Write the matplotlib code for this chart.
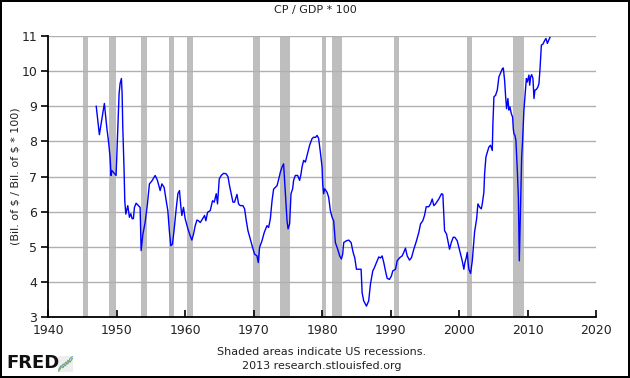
import matplotlib

matplotlib.use("Agg")
import matplotlib.pyplot as plt

# CP / GDP * 100 (decimal year, value)
years = [
    1947.00, 1947.46, 1948.19, 1948.54, 1948.83, 1949.02, 1949.17, 1949.27, 1949.51, 1949.90,
    1950.09, 1950.34, 1950.49, 1950.68, 1950.78, 1950.88, 1951.07, 1951.17, 1951.32, 1951.61,
    1951.85, 1952.05, 1952.24, 1952.43, 1952.58, 1952.83, 1953.16, 1953.41, 1953.56, 1953.81,
    1954.14, 1954.48, 1954.77, 1955.12, 1955.61, 1955.94, 1956.34, 1956.59, 1956.92, 1957.22,
    1957.46, 1957.70, 1957.90, 1958.14, 1958.39, 1958.68, 1958.93, 1959.16, 1959.37, 1959.51,
    1959.75, 1959.99, 1960.39, 1960.73, 1960.97, 1961.21, 1961.46, 1961.71, 1961.94, 1962.19,
    1962.52, 1962.82, 1963.02, 1963.26, 1963.65, 1963.99, 1964.24, 1964.53, 1964.72, 1964.97,
    1965.26, 1965.60, 1965.95, 1966.24, 1966.47, 1966.72, 1966.97, 1967.20, 1967.56, 1967.79,
    1968.04, 1968.43, 1968.67, 1968.92, 1969.16, 1969.50, 1969.84, 1970.13, 1970.48, 1970.67,
    1970.86, 1971.21, 1971.55, 1971.94, 1972.18, 1972.43, 1972.68, 1972.91, 1973.41, 1973.64,
    1973.89, 1974.14, 1974.37, 1974.62, 1974.87, 1975.02, 1975.25, 1975.45, 1975.69, 1975.83,
    1976.08, 1976.42, 1976.71, 1976.92, 1977.06, 1977.30, 1977.55, 1977.79, 1978.17, 1978.53,
    1978.76, 1979.01, 1979.26, 1979.49, 1979.74, 1979.99, 1980.08, 1980.22, 1980.37, 1980.72,
    1980.95, 1981.20, 1981.45, 1981.68, 1981.93, 1982.27, 1982.56, 1982.81, 1983.00, 1983.15,
    1983.54, 1983.88, 1984.23, 1984.52, 1984.76, 1985.01, 1985.34, 1985.69, 1985.84, 1986.07,
    1986.47, 1986.80, 1987.05, 1987.39, 1987.64, 1987.93, 1988.27, 1988.52, 1988.76, 1989.00,
    1989.25, 1989.50, 1989.83, 1990.12, 1990.31, 1990.71, 1990.96, 1991.34, 1991.69, 1991.92,
    1992.17, 1992.42, 1992.76, 1993.05, 1993.39, 1993.78, 1994.12, 1994.37, 1994.70, 1994.95,
    1995.20, 1995.58, 1995.83, 1996.08, 1996.31, 1996.56, 1997.04, 1997.44, 1997.63, 1997.88,
    1998.17, 1998.36, 1998.61, 1998.86, 1999.15, 1999.38, 1999.73, 1999.97, 2000.22, 2000.46,
    2000.70, 2000.85, 2001.05, 2001.20, 2001.34, 2001.43, 2001.68, 2001.93, 2002.07, 2002.26,
    2002.56, 2002.75, 2003.04, 2003.24, 2003.39, 2003.62, 2003.73, 2003.92, 2004.12, 2004.36,
    2004.60, 2004.85, 2004.94, 2005.09, 2005.33, 2005.58, 2005.82, 2006.07, 2006.32, 2006.46,
    2006.65, 2006.80, 2006.94, 2007.13, 2007.28, 2007.43, 2007.63, 2007.82, 2007.92, 2008.01,
    2008.16, 2008.30, 2008.51, 2008.66, 2008.74, 2008.80, 2008.89, 2009.04, 2009.14, 2009.28,
    2009.47, 2009.62, 2009.83, 2009.97, 2010.21, 2010.31, 2010.46, 2010.61, 2010.79, 2010.94,
    2011.08, 2011.29, 2011.52, 2011.67, 2011.81, 2012.02, 2012.25, 2012.50, 2012.69, 2012.90,
    2013.13, 2013.28,
]
values = [
    9.00, 8.19, 9.08, 8.40, 7.94, 7.55, 7.03, 7.17, 7.12, 7.03,
    8.03, 9.36, 9.65, 9.79, 9.37, 8.40, 7.17, 6.31, 5.93, 6.17,
    5.84, 5.94, 5.80, 5.80, 6.12, 6.24, 6.17, 6.12, 4.89, 5.35,
    5.69, 6.22, 6.79, 6.87, 7.03, 6.89, 6.60, 6.79, 6.69, 6.31,
    6.03, 5.41, 5.03, 5.08, 5.51, 6.08, 6.51, 6.60, 6.12, 5.89,
    6.12, 5.80, 5.51, 5.31, 5.19, 5.36, 5.60, 5.76, 5.74, 5.69,
    5.79, 5.89, 5.74, 5.98, 6.03, 6.31, 6.27, 6.51, 6.22, 6.93,
    7.03, 7.09, 7.08, 7.00, 6.74, 6.51, 6.27, 6.27, 6.49, 6.22,
    6.17, 6.17, 6.08, 5.74, 5.46, 5.22, 4.98, 4.79, 4.74, 4.55,
    4.98, 5.17, 5.41, 5.60, 5.55, 5.79, 6.31, 6.64, 6.74, 6.91,
    7.12, 7.27, 7.36, 6.55, 5.74, 5.51, 5.65, 6.51, 6.65, 6.89,
    7.03, 7.03, 6.89, 7.08, 7.27, 7.46, 7.41, 7.60, 7.89, 8.08,
    8.12, 8.11, 8.17, 8.08, 7.69, 7.27, 6.79, 6.51, 6.65, 6.55,
    6.41, 6.03, 5.84, 5.74, 5.12, 4.93, 4.74, 4.65, 4.79, 5.12,
    5.17, 5.19, 5.12, 4.84, 4.69, 4.36, 4.36, 4.36, 3.69, 3.46,
    3.31, 3.46, 3.93, 4.31, 4.41, 4.55, 4.71, 4.68, 4.74, 4.55,
    4.31, 4.10, 4.07, 4.17, 4.31, 4.36, 4.60, 4.69, 4.74, 4.84,
    4.96, 4.74, 4.62, 4.69, 4.93, 5.17, 5.41, 5.65, 5.74, 5.89,
    6.14, 6.14, 6.22, 6.36, 6.17, 6.22, 6.36, 6.51, 6.49, 5.46,
    5.36, 5.17, 4.93, 5.12, 5.27, 5.27, 5.17, 4.98, 4.79, 4.60,
    4.36, 4.55, 4.69, 4.84, 4.50, 4.36, 4.24, 4.60, 4.93, 5.41,
    5.79, 6.22, 6.12, 6.08, 6.22, 6.55, 7.08, 7.55, 7.69, 7.84,
    7.89, 7.74, 8.50, 9.27, 9.31, 9.46, 9.84, 9.95, 10.07, 10.09,
    9.74, 9.27, 8.93, 9.22, 8.89, 8.98, 8.79, 8.69, 8.36, 8.22,
    8.17, 8.03, 7.17, 6.41, 5.46, 4.60, 5.36, 6.51, 7.55, 8.03,
    8.89, 9.27, 9.79, 9.69, 9.89, 9.60, 9.84, 9.90, 9.79, 9.22,
    9.46, 9.48, 9.55, 9.65, 10.03, 10.74, 10.77, 10.87, 10.93, 10.79,
    10.90, 10.96,
]

# NBER recessions (start, end)
rec_start = [1945.08, 1948.83, 1953.50, 1957.58, 1960.25, 1969.92,
             1973.83, 1980.00, 1981.50, 1990.50, 2001.17, 2007.92]
rec_end = [1945.83, 1949.83, 1954.42, 1958.33, 1961.17, 1970.92,
           1975.25, 1980.58, 1982.92, 1991.25, 2001.92, 2009.50]

xticks = [1940, 1950, 1960, 1970, 1980, 1990, 2000, 2010, 2020]
yticks = [3, 4, 5, 6, 7, 8, 9, 10, 11]

# little logo sparkline
logo_x = [0, 1, 2, 3, 4, 5, 6]
logo_a = [1, 2, 1.5, 3, 2.5, 4, 4.5]
logo_b = [0.5, 1.5, 2.5, 2, 3.5, 3, 4]

W, H = 630, 378
AX_W = 596 - 48.3
fig = plt.figure(figsize=(W / 100, H / 100), dpi=100, facecolor="white",
                 edgecolor="black", linewidth=1.5)
ax = fig.add_axes([48.3 / W, (H - 317) / H, AX_W / W, (317 - 36) / H])

for s, e in zip(rec_start, rec_end):
    ax.axvspan(s, e, color="#bebebe", lw=0, zorder=1)

ax.plot(years, values, color="#0000ff", lw=1.0, zorder=3)

ax.set_xlim(1940, 2020)
ax.set_ylim(3, 11)
ax.set_xticks(xticks)
ax.set_yticks(yticks)
ax.grid(True, axis="y", color="#b0b0b0", lw=1.0)
ax.set_axisbelow(False)
for g in ax.get_ygridlines():
    g.set_zorder(2)

for side in ("top", "right"):
    ax.spines[side].set_visible(False)
for side in ("left", "bottom"):
    ax.spines[side].set_color("black")
    ax.spines[side].set_linewidth(1.3)
    ax.spines[side].set_zorder(4)

ax.tick_params(axis="x", direction="in", length=5, width=1.2, labelsize=9,
               pad=5, colors="black")
ax.tick_params(axis="y", direction="out", length=5, width=1.2, labelsize=9,
               pad=3, colors="black")
for lab in ax.get_xticklabels() + ax.get_yticklabels():
    lab.set_color("#222222")

ax.set_ylabel(r"(Bil. of \$ / Bil. of \$ * 100)", fontsize=8, color="#222222")
ax.yaxis.set_label_coords(-28 / AX_W, 0.5)

fig.text(315 / W, 1 - 10 / H, "CP / GDP * 100", ha="center", va="center",
         fontsize=8, color="#222222")
fig.text(322 / W, 1 - 352 / H, "Shaded areas indicate US recessions.",
         ha="center", va="center", fontsize=8, color="#222222")
fig.text(322 / W, 1 - 366 / H, "2013 research.stlouisfed.org",
         ha="center", va="center", fontsize=8, color="#222222")
fig.text(6 / W, 1 - 363 / H, "FRED", ha="left", va="center", fontsize=13,
         fontweight="bold", color="#111111")

lax = fig.add_axes([58 / W, (H - 372) / H, 15 / W, 16 / H])
lax.plot(logo_x, logo_a, color="#6699cc", lw=0.8)
lax.plot(logo_x, logo_b, color="#77aa55", lw=0.8)
lax.set_facecolor("#eeeeee")
lax.set_xticks([])
lax.set_yticks([])
for sp in lax.spines.values():
    sp.set_visible(False)

fig.savefig("out.png", dpi=100, facecolor=fig.get_facecolor(),
            edgecolor=fig.get_edgecolor())
